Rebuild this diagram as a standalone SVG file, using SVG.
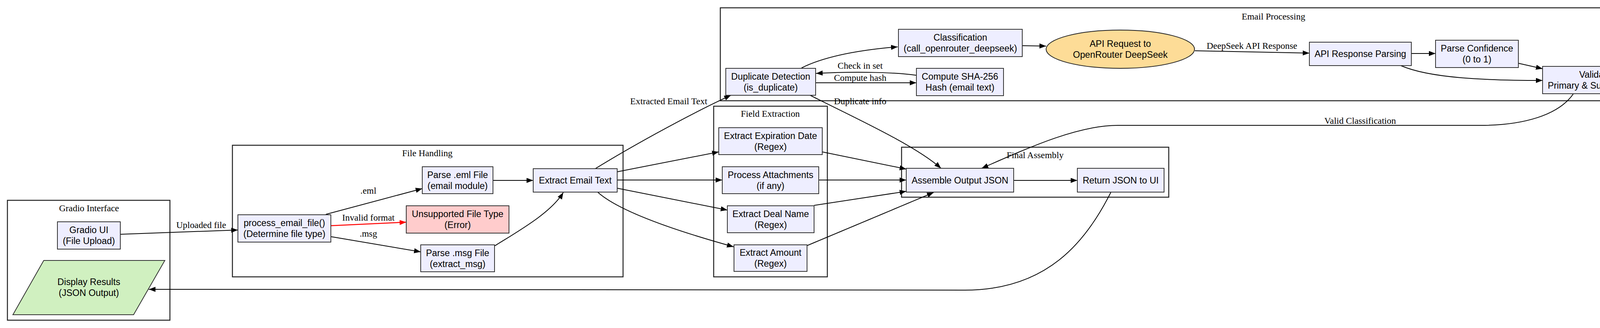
<svg xmlns="http://www.w3.org/2000/svg" width="4695" height="840" viewBox="0 0 4695 840">
<style>
.cl{fill:none;stroke:#222;stroke-width:2.5}
.n{fill:#eeeeff;stroke:#333;stroke-width:2}
.err{fill:#ffcccc;stroke:#333;stroke-width:2}
.api{fill:#fddc97;stroke:#222;stroke-width:2}
.out{fill:#d0f0c0;stroke:#333;stroke-width:2}
.t{font-family:"Liberation Sans",Arial,sans-serif;font-size:23.33px;fill:#000;text-anchor:middle}
.s{font-family:"Liberation Serif","Times New Roman",serif;font-size:23.33px;fill:#000;text-anchor:middle}
.e{fill:none;stroke:#000;stroke-width:2}
.r{fill:none;stroke:#ff0000;stroke-width:2.5}
</style>
<defs>
<marker id="a" markerUnits="userSpaceOnUse" markerWidth="18" markerHeight="14" refX="17" refY="6.5" orient="auto"><path d="M0,0 L17,6.5 L0,13 z" fill="#000"/></marker>
<marker id="ar" markerUnits="userSpaceOnUse" markerWidth="18" markerHeight="14" refX="17" refY="6.5" orient="auto"><path d="M0,0 L17,6.5 L0,13 z" fill="#ff0000"/></marker>
</defs>
<rect width="4695" height="840" fill="#fff"/>
<g id="clusters">
<g id="cluster_gradio"><rect class="cl" x="19" y="513" width="416" height="307"/><text class="s" x="228" y="541">Gradio Interface</text></g>
<g id="cluster_file"><rect class="cl" x="595" y="372" width="1000" height="337"/><text class="s" x="1094" y="400">File Handling</text></g>
<g id="cluster_email"><rect class="cl" x="1844" y="20" width="2832" height="238"/><text class="s" x="3260" y="50">Email Processing</text></g>
<g id="cluster_field"><rect class="cl" x="1827" y="272" width="291" height="437"/><text class="s" x="1972" y="299">Field Extraction</text></g>
<g id="cluster_final"><rect class="cl" x="2308" y="377" width="684" height="128"/><text class="s" x="2650" y="405">Final Assembly</text></g>
</g>
<g id="connectors">
<path class="e" d="M308,600 L609,589" marker-end="url(#a)"/>
<text class="s" x="515" y="584">Uploaded file</text>
<path class="e" d="M834,549 L1081,483" marker-end="url(#a)"/>
<text class="s" x="943" y="496">.eml</text>
<path class="r" d="M847,578 L1040,569" marker-end="url(#ar)"/>
<text class="s" x="943" y="565">Invalid format</text>
<path class="e" d="M847,606 L1077,645" marker-end="url(#a)"/>
<text class="s" x="943" y="606">.msg</text>
<path class="e" d="M1262,462 L1365,462" marker-end="url(#a)"/>
<path class="e" d="M1266,630 C1330,590 1410,545 1442,493" marker-end="url(#a)"/>
<path class="e" d="M1524,432 C1600,385 1750,300 1871,244" marker-end="url(#a)"/>
<text class="s" x="1712" y="267">Extracted Email Text</text>
<path class="e" d="M1580,440 L1840,389" marker-end="url(#a)"/>
<path class="e" d="M1580,461 L1849,461" marker-end="url(#a)"/>
<path class="e" d="M1580,482 L1862,538" marker-end="url(#a)"/>
<path class="e" d="M1530,492 Q1600,555 1878,632" marker-end="url(#a)"/>
<path class="e" d="M2052,174 C2110,145 2200,128 2298,120" marker-end="url(#a)"/>
<path class="e" d="M2347,193 C2300,186 2200,182 2089,188" marker-end="url(#a)"/>
<text class="s" x="2202" y="176">Check in set</text>
<path class="e" d="M2088,212 L2346,212" marker-end="url(#a)"/>
<text class="s" x="2202" y="207">Compute hash</text>
<path class="e" d="M2074,244 C2180,298 2340,370 2409,431" marker-end="url(#a)"/>
<text class="s" x="2202" y="267">Duplicate info</text>
<path class="e" d="M2105,389 L2320,433" marker-end="url(#a)"/>
<path class="e" d="M2096,461 L2320,461" marker-end="url(#a)"/>
<path class="e" d="M2084,526 L2320,490" marker-end="url(#a)"/>
<path class="e" d="M2066,629 L2390,493" marker-end="url(#a)"/>
<path class="e" d="M2617,117 L2678,118" marker-end="url(#a)"/>
<path class="e" d="M3059,130 L3352,136" marker-end="url(#a)"/>
<text class="s" x="3205" y="125">DeepSeek API Response</text>
<path class="e" d="M3613,137 L3675,137" marker-end="url(#a)"/>
<path class="e" d="M3887,162 L3949,176" marker-end="url(#a)"/>
<path class="e" d="M3586,168 C3660,200 3800,206 3949,206" marker-end="url(#a)"/>
<path class="r" d="M4219,205 L4480,205" marker-end="url(#ar)"/>
<text class="s" x="4350" y="200">Invalid Request Type</text>
<path class="e" d="M4028,240 C3990,295 3900,321 3790,321 L2862,321 C2760,321 2640,375 2513,431" marker-end="url(#a)"/>
<text class="s" x="3482" y="317">Valid Classification</text>
<path class="e" d="M2595,462 L2758,462" marker-end="url(#a)"/>
<path class="e" d="M2844,492 C2780,620 2680,743 2470,743 L381,741" marker-end="url(#a)"/>
</g>
<g id="gradio_ui"><rect class="n" x="147" y="568" width="161" height="70"/><text class="t" x="227.5" y="597">Gradio UI</text><text class="t" x="227.5" y="625">(File Upload)</text></g>
<g id="display_results"><polygon class="out" points="112,667 422,667 342,806 33,806"/><text class="t" x="227.5" y="730">Display Results</text><text class="t" x="227.5" y="758">(JSON Output)</text></g>
<g id="process_email_file"><rect class="n" x="609" y="550" width="238" height="70"/><text class="t" x="728" y="579">process_email_file()</text><text class="t" x="728" y="607">(Determine file type)</text></g>
<g id="parse_eml"><rect class="n" x="1081" y="427" width="181" height="69"/><text class="t" x="1171.5" y="455.5">Parse .eml File</text><text class="t" x="1171.5" y="483.5">(email module)</text></g>
<g id="unsupported"><rect class="err" x="1040" y="527" width="263" height="70"/><text class="t" x="1171.5" y="556">Unsupported File Type</text><text class="t" x="1171.5" y="584">(Error)</text></g>
<g id="parse_msg"><rect class="n" x="1077" y="627" width="189" height="69"/><text class="t" x="1171.5" y="655.5">Parse .msg File</text><text class="t" x="1171.5" y="683.5">(extract_msg)</text></g>
<g id="extract_text"><rect class="n" x="1365" y="432" width="215" height="60"/><text class="t" x="1472.5" y="470">Extract Email Text</text></g>
<g id="duplicate"><rect class="n" x="1858" y="175" width="230" height="69"/><text class="t" x="1973" y="203.5">Duplicate Detection</text><text class="t" x="1973" y="231.5">(is_duplicate)</text></g>
<g id="classification"><rect class="n" x="2300" y="75" width="317" height="70"/><text class="t" x="2458.5" y="104">Classification</text><text class="t" x="2458.5" y="132">(call_openrouter_deepseek)</text></g>
<g id="sha256"><rect class="n" x="2346" y="175" width="223" height="70"/><text class="t" x="2457.5" y="204">Compute SHA-256</text><text class="t" x="2457.5" y="232">Hash (email text)</text></g>
<g id="api_request"><ellipse class="api" cx="2868" cy="126" rx="190" ry="49"/><text class="t" x="2868" y="120">API Request to</text><text class="t" x="2868" y="148">OpenRouter DeepSeek</text></g>
<g id="api_parsing"><rect class="n" x="3352" y="108" width="261" height="60"/><text class="t" x="3482.5" y="146">API Response Parsing</text></g>
<g id="confidence"><rect class="n" x="3675" y="103" width="212" height="70"/><text class="t" x="3781" y="132">Parse Confidence</text><text class="t" x="3781" y="160">(0 to 1)</text></g>
<g id="validate"><rect class="n" x="3949" y="170" width="270" height="70"/><text class="t" x="4084" y="199">Validate</text><text class="t" x="4084" y="227">Primary &amp; Sub Request</text></g>
<g id="api_failed"><rect class="err" x="4480" y="170" width="182" height="70"/><text class="t" x="4571" y="199">API Call Failed</text><text class="t" x="4571" y="227">(Error)</text></g>
<g id="exp_date"><rect class="n" x="1840" y="327" width="265" height="69"/><text class="t" x="1972.5" y="355.5">Extract Expiration Date</text><text class="t" x="1972.5" y="383.5">(Regex)</text></g>
<g id="attachments"><rect class="n" x="1849" y="427" width="247" height="69"/><text class="t" x="1972.5" y="455.5">Process Attachments</text><text class="t" x="1972.5" y="483.5">(if any)</text></g>
<g id="deal_name"><rect class="n" x="1862" y="527" width="222" height="69"/><text class="t" x="1973" y="555.5">Extract Deal Name</text><text class="t" x="1973" y="583.5">(Regex)</text></g>
<g id="amount"><rect class="n" x="1879" y="627" width="187" height="68"/><text class="t" x="1972.5" y="655">Extract Amount</text><text class="t" x="1972.5" y="683">(Regex)</text></g>
<g id="assemble"><rect class="n" x="2320" y="431" width="275" height="61"/><text class="t" x="2457.5" y="469.5">Assemble Output JSON</text></g>
<g id="return_json"><rect class="n" x="2758" y="431" width="222" height="61"/><text class="t" x="2869" y="469.5">Return JSON to UI</text></g>
</svg>
